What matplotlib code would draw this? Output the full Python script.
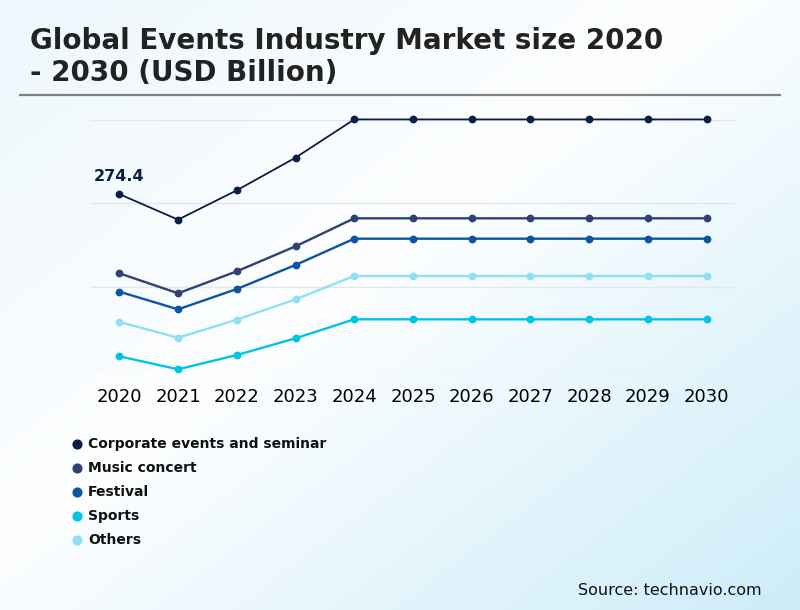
import matplotlib
matplotlib.use("Agg")
import matplotlib.pyplot as plt
from matplotlib.colors import LinearSegmentedColormap
from matplotlib.lines import Line2D
import numpy as np

# data (USD billion)
years = ['2020', '2021', '2022', '2023', '2024', '2025', '2026', '2027', '2028', '2029', '2030']
corporate = [274.4, 234.6, 280.4, 331.3, 391.0, 391.0, 391.0, 391.0, 391.0, 391.0, 391.0]
music = [150.9, 119.7, 154.0, 193.0, 236.7, 236.7, 236.7, 236.7, 236.7, 236.7, 236.7]
festival = [122.2, 94.7, 126.4, 163.9, 204.9, 204.9, 204.9, 204.9, 204.9, 204.9, 204.9]
sports = [21.4, 1.1, 23.4, 49.5, 79.1, 79.1, 79.1, 79.1, 79.1, 79.1, 79.1]
others = [74.9, 50.4, 78.5, 110.3, 146.7, 146.7, 146.7, 146.7, 146.7, 146.7, 146.7]

names = ['Corporate events and seminar', 'Music concert', 'Festival', 'Sports', 'Others']
series = [corporate, music, festival, sports, others]
colors = ['#0c1e45', '#2f4175', '#0b55a3', '#00c4e3', '#8fe0f2']
widths = [1.3, 1.7, 1.7, 1.7, 1.7]

fig = plt.figure(figsize=(8, 6.1), dpi=100)

# diagonal background gradient
bg = fig.add_axes([0, 0, 1, 1], zorder=-10)
gx, gy = np.meshgrid(np.linspace(0, 1, 200), np.linspace(0, 1, 200))
t = (gx + gy) / 2
cmap = LinearSegmentedColormap.from_list('bg', [(0, '#edf7fc'), (0.45, '#fdfeff'), (1, '#cdedf9')])
bg.imshow(t, cmap=cmap, aspect='auto', extent=[0, 1, 0, 1], origin='upper')
bg.axis('off')

ax = fig.add_axes([0.1125, 0.3934, 0.8075, 0.4098])
ax.set_facecolor('none')
x = np.arange(len(years))
for vals, c, lw in zip(series, colors, widths):
    ax.plot(x, vals, color=c, lw=lw, marker='o', markersize=4.6, clip_on=False, zorder=3)

ax.annotate('274.4', (x[0], corporate[0]), xytext=(0, 7), textcoords='offset points',
            ha='center', va='bottom', fontsize=11.5, fontweight='bold', color=colors[0])

ax.set_xlim(-0.5, 10.5)
ax.set_ylim(0, 390)
ax.set_yticks([0, 130, 260, 390])
ax.set_yticklabels([])
ax.grid(axis='y', color='#e3e6ea', lw=1)
ax.set_axisbelow(True)
ax.set_xticks(x)
ax.set_xticklabels(years, fontsize=13, color='black')
ax.tick_params(length=0, pad=13)
for s in ax.spines.values():
    s.set_visible(False)

fig.text(0.0375, 0.955, 'Global Events Industry Market size 2020\n- 2030 (USD Billion)',
         fontsize=20, fontweight='bold', color='#222222', va='top', ha='left', linespacing=1.15)
fig.add_artist(Line2D([0.025, 0.975], [1 - 95 / 610] * 2, transform=fig.transFigure,
                      color='#808080', lw=1.6))

# legend
for i, (name, c) in enumerate(zip(names, colors)):
    yy = 1 - (444 + 24 * i) / 610
    fig.add_artist(Line2D([77 / 800], [yy], transform=fig.transFigure, marker='o',
                          markersize=6.3, color=c, linestyle=''))
    fig.text(88 / 800, yy, name, fontsize=10, fontweight='bold', va='center', ha='left', color='#111111')

fig.text(762 / 800, 1 - 595 / 610, 'Source: technavio.com', fontsize=11.5, ha='right', va='baseline', color='#111111')

fig.savefig('out.png', dpi=100)
